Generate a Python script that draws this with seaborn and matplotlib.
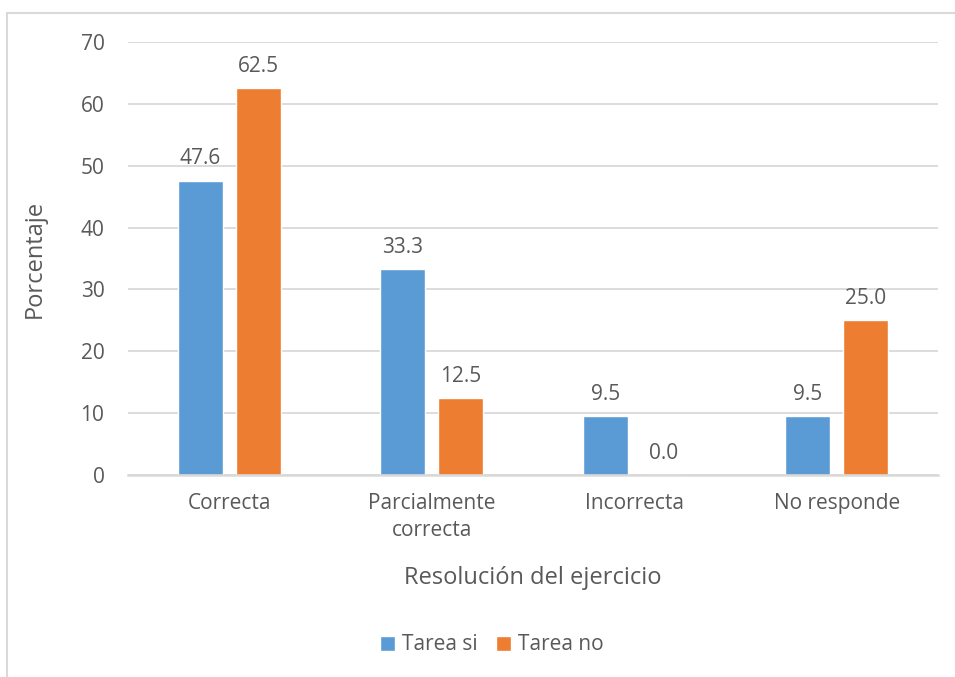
import matplotlib
matplotlib.use("Agg")
import matplotlib.pyplot as plt
import pandas as pd
import seaborn as sns

categories = ["Correcta", "Parcialmente\ncorrecta", "Incorrecta", "No responde"]
tarea_si = [47.6, 33.3, 9.5, 9.5]
tarea_no = [62.5, 12.5, 0.0, 25.0]
series_names = ["Tarea si", "Tarea no"]
colors = ["#5b9bd5", "#ed7d31"]
y_ticks = [0, 10, 20, 30, 40, 50, 60, 70]

df = pd.DataFrame({
    "categoria": categories * 2,
    "serie": [series_names[0]] * 4 + [series_names[1]] * 4,
    "valor": tarea_si + tarea_no,
})

sns.set_theme(style="white")
plt.rcParams["font.family"] = ["Open Sans", "DejaVu Sans"]
text_color = "#595959"
grid_color = "#d9d9d9"

fig = plt.figure(figsize=(9.55, 6.77), dpi=100)
ax = fig.add_axes([128 / 955, 1 - 475 / 677, 810 / 955, 433 / 677])

sns.barplot(data=df, x="categoria", y="valor", hue="serie", palette=colors,
            width=0.573, gap=0.22, ax=ax, legend=True, saturation=1)

ax.set_xlim(-0.5, 3.5)
ax.set_ylim(0, 70)
ax.set_yticks(y_ticks)
ax.yaxis.grid(True, color=grid_color, linewidth=1.3)
ax.set_axisbelow(True)
for side in ["top", "right", "left"]:
    ax.spines[side].set_visible(False)
ax.spines["bottom"].set_color(grid_color)
ax.spines["bottom"].set_linewidth(1.8)
ax.tick_params(axis="both", length=0, labelsize=15, labelcolor=text_color)
ax.tick_params(axis="y", pad=17)
ax.tick_params(axis="x", pad=13)
for lbl in ax.get_xticklabels():
    lbl.set_linespacing(1.4)

for container in ax.containers:
    ax.bar_label(container, fmt="%.1f", padding=8, fontsize=15, color=text_color)

ax.set_xlabel("Resolución del ejercicio", fontsize=17, color=text_color, labelpad=18)
ax.set_ylabel("Porcentaje", fontsize=17, color=text_color, labelpad=24)

ax.legend(loc="center", bbox_to_anchor=(492 / 955, 1 - 645 / 677),
          bbox_transform=fig.transFigure, ncol=2, frameon=False, fontsize=15,
          handlelength=0.7, handleheight=0.7, handletextpad=0.35, columnspacing=0.9,
          labelcolor=text_color)

# chart border (Excel-style frame)
border = plt.Rectangle((7 / 955, -0.05), 1.1, 1 - 13 / 677 + 0.05, transform=fig.transFigure,
                       fill=False, edgecolor=grid_color, linewidth=1.5)
fig.add_artist(border)

plt.savefig("out.png", dpi=100)
plt.close()
